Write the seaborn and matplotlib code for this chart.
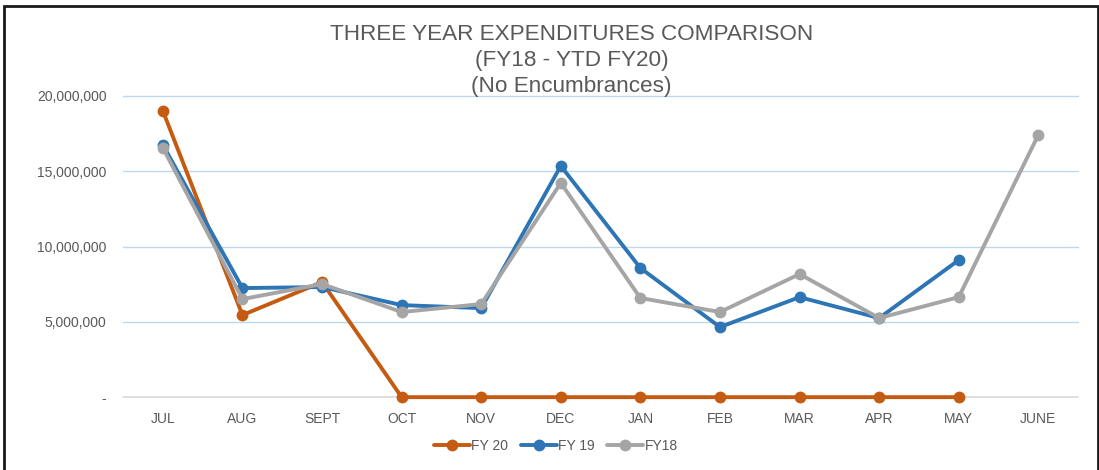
import pandas as pd
import numpy as np
import matplotlib.pyplot as plt
import seaborn as sns
from matplotlib.patches import Rectangle
from matplotlib.ticker import FuncFormatter

sns.set_theme(style='white')
plt.rcParams['font.family'] = ['Liberation Sans Narrow', 'Liberation Sans', 'DejaVu Sans']

# Monthly data
months = ['JUL', 'AUG', 'SEPT', 'OCT', 'NOV', 'DEC', 'JAN', 'FEB', 'MAR', 'APR', 'MAY', 'JUNE']
fy20 = [19.0, 5.45, 7.64, 0, 0, 0, 0, 0, 0, 0, 0, None]
fy19 = [16.74, 7.24, 7.31, 6.11, 5.91, 15.35, 8.57, 4.65, 6.64, 5.25, 9.10, None]
fy18 = [16.54, 6.51, 7.51, 5.65, 6.18, 14.22, 6.58, 5.65, 8.17, 5.25, 6.64, 17.41]

series = {'FY 20': fy20, 'FY 19': fy19, 'FY18': fy18}
colors = {'FY 20': '#C55A11', 'FY 19': '#2E75B6', 'FY18': '#A5A5A5'}

rows = []
for name, vals in series.items():
    for i, v in enumerate(vals):
        if v is not None:
            rows.append({'idx': i, 'value': v * 1e6, 'series': name})
df = pd.DataFrame(rows)

fig = plt.figure(figsize=(10.99, 4.70), dpi=100)
ax = fig.add_axes([0.112, 0.155, 0.869, 0.641])

# gridlines
for y in [5e6, 10e6, 15e6, 20e6]:
    ax.axhline(y, color='#BDD7EE', lw=1, zorder=0)
ax.axhline(0, color='#D9D9D9', lw=1.2, zorder=0)

sns.lineplot(data=df, x='idx', y='value', hue='series', hue_order=list(series.keys()),
             palette=colors, marker='o', markersize=8.5, markeredgewidth=0,
             linewidth=2.8, sort=False, ax=ax)

ax.set_xlim(-0.5, 11.5)
ax.set_ylim(0, 20e6)
ax.set_xticks(range(len(months)))
ax.set_xticklabels(months)
ax.set_yticks([0, 5e6, 10e6, 15e6, 20e6])
ax.yaxis.set_major_formatter(FuncFormatter(lambda v, p: '-' if v == 0 else f'{int(v):,}'))
ax.tick_params(axis='both', colors='#595959', labelsize=10, length=0)
ax.tick_params(axis='x', pad=11)
ax.tick_params(axis='y', pad=12)
ax.set_xlabel('')
ax.set_ylabel('')
for s in ax.spines.values():
    s.set_visible(False)
for line in ax.lines:
    line.set_clip_on(False)

ax.legend(loc='center', bbox_to_anchor=(0.453, -0.163), ncol=3, frameon=False,
          fontsize=10, handlelength=2.6, columnspacing=0.9, handletextpad=0.1,
          labelcolor='#595959')

fig.text(0.52, 0.871, 'THREE YEAR EXPENDITURES COMPARISON\n(FY18 - YTD FY20)\n(No Encumbrances)',
         ha='center', va='center', fontsize=16.2, color='#595959',
         family=['Liberation Sans', 'DejaVu Sans'], linespacing=1.3)

fig.patches.append(Rectangle((0.004, -0.01), 0.995, 0.998, transform=fig.transFigure,
                             fill=False, edgecolor='#1a1a1a', lw=2))

fig.savefig('out.png', dpi=100)
